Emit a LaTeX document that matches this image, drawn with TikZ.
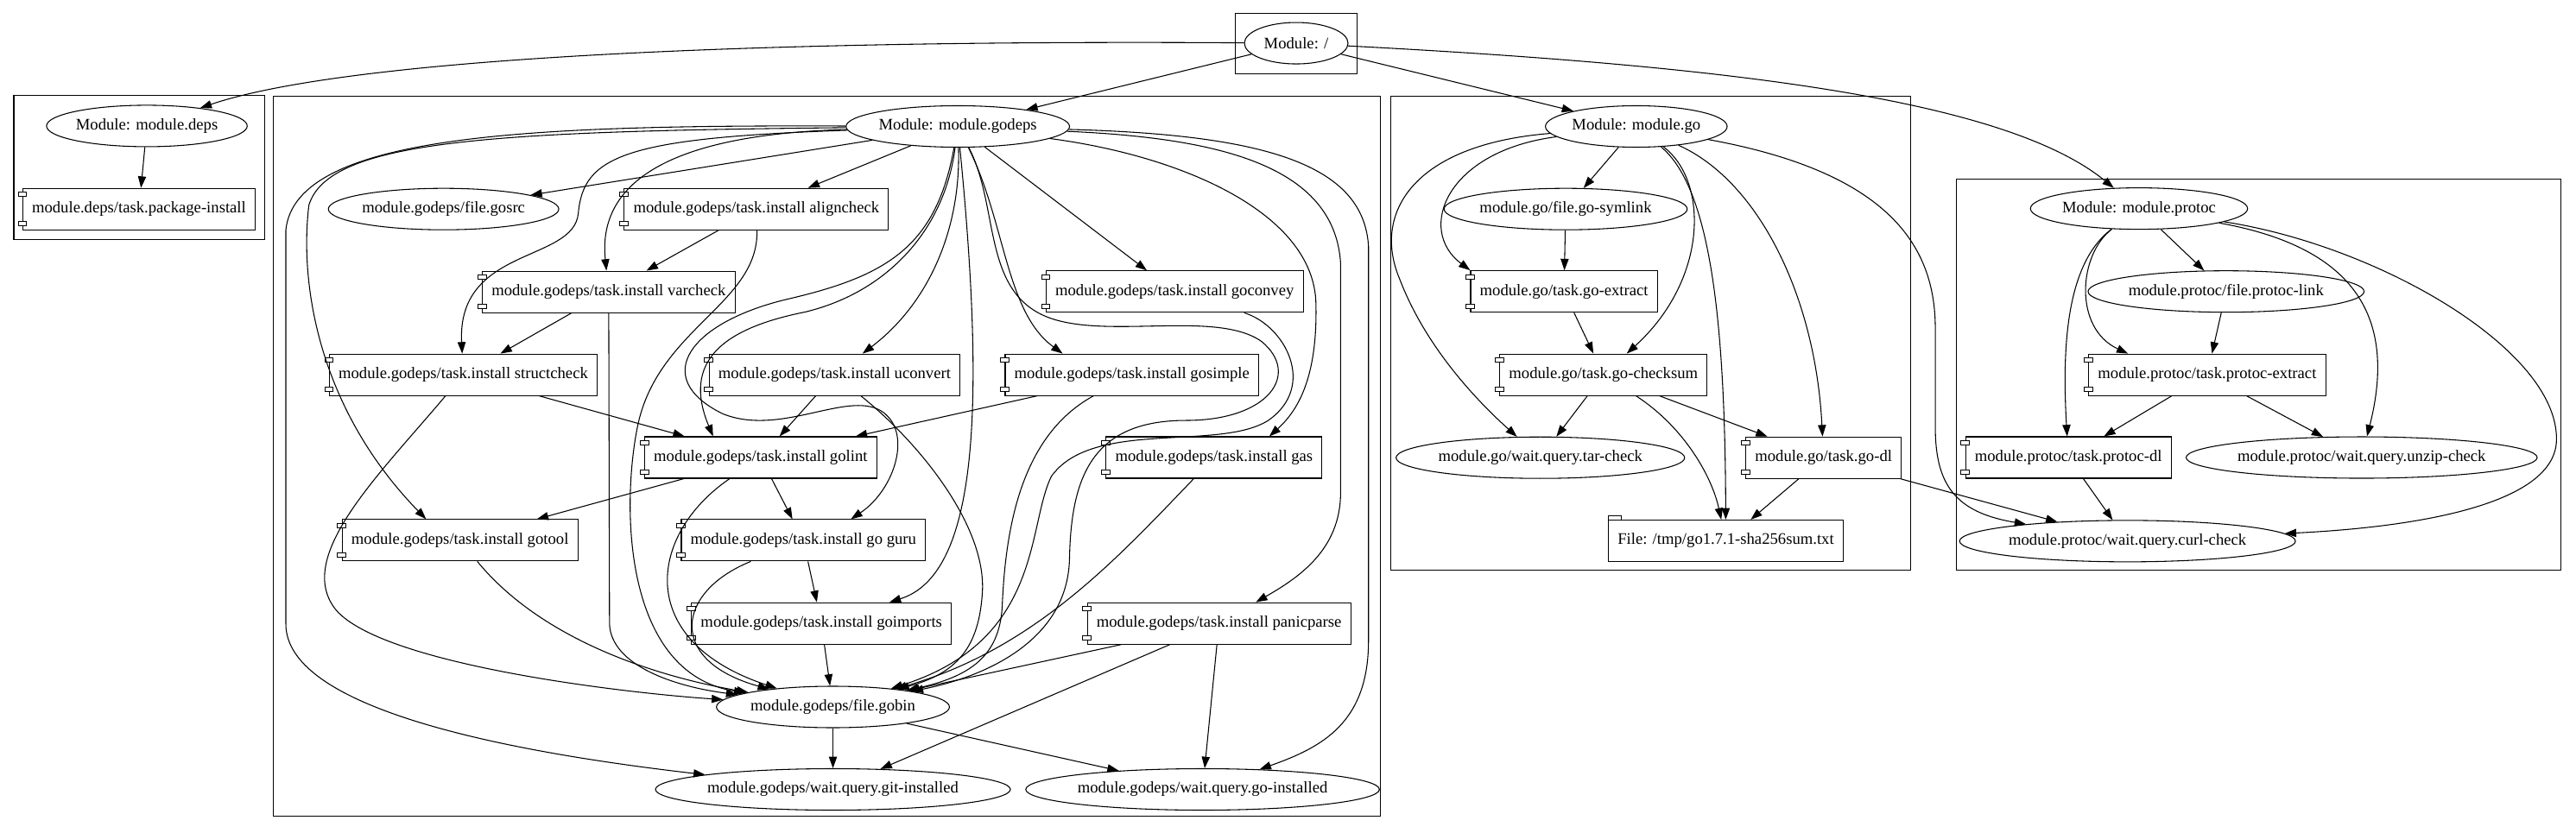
\documentclass[tikz,border=0pt]{standalone}
\usepackage{fontspec}
\setmainfont{Liberation Serif}
\usetikzlibrary{arrows.meta,shapes.geometric}
\tikzset{
  res/.style={draw, line width=0.8pt, font=\fontsize{14}{16}\selectfont},
  mod/.style={res, ellipse, inner xsep=0pt, minimum width=90pt, minimum height=36pt},
  comp/.style={res, rectangle, inner xsep=8pt, minimum height=36pt},
  filebox/.style={comp},
  tabbox/.style={draw, fill=white, line width=0.6pt},
  dep/.style={line width=0.8pt, -{Triangle[length=10pt,width=7pt]}},
  cluster/.style={draw, line width=0.8pt}
}
\begin{document}
\begin{tikzpicture}[x=1.4268pt, y=-1.4268pt]
\useasboundingbox (0,0) rectangle (1568,507);
\draw[cluster] (752,8) rectangle (826,45);
\draw[cluster] (8.4,58.3) rectangle (161,146);
\draw[cluster] (166.6,58.5) rectangle (840,497);
\draw[cluster] (846.5,58.5) rectangle (1163,347);
\draw[cluster] (1191,109) rectangle (1559,347);

\node[mod] (root) at (789,26.3) {Module: /};

\node[mod] (deps) at (89.4,76.7) {Module: module.deps};
\node[comp] (pkginst) at (84.6,127.3) {module.deps/task.package-install};

\node[mod] (godeps) at (583,77) {Module: module.godeps};
\node[mod] (gosrc) at (270,127.3) {module.godeps/file.gosrc};
\node[comp] (aligncheck) at (460.4,127.3) {module.godeps/task.install aligncheck};
\node[comp] (varcheck) at (370.5,177.7) {module.godeps/task.install varcheck};
\node[comp] (goconvey) at (715,177.6) {module.godeps/task.install goconvey};
\node[comp] (structcheck) at (282,228.2) {module.godeps/task.install structcheck};
\node[comp] (uconvert) at (508,228.2) {module.godeps/task.install uconvert};
\node[comp] (gosimple) at (689,228.2) {module.godeps/task.install gosimple};
\node[comp] (golint) at (463,278.6) {module.godeps/task.install golint};
\node[comp] (gas) at (739,278.6) {module.godeps/task.install gas};
\node[comp] (gotool) at (280,329) {module.godeps/task.install gotool};
\node[comp] (goguru) at (489,329) {module.godeps/task.install go guru};
\node[comp] (goimports) at (500,379.6) {module.godeps/task.install goimports};
\node[comp] (panicparse) at (742,379.6) {module.godeps/task.install panicparse};
\node[mod] (gobin) at (507,430.5) {module.godeps/file.gobin};
\node[mod] (gitinst) at (507,480.7) {module.godeps/wait.query.git-installed};
\node[mod] (goinst) at (732,480.7) {module.godeps/wait.query.go-installed};

\node[mod] (modgo) at (996,77) {Module: module.go};
\node[mod] (symlink) at (953,127.3) {module.go/file.go-symlink};
\node[comp] (extract) at (952,177.5) {module.go/task.go-extract};
\node[comp] (checksum) at (976,228.2) {module.go/task.go-checksum};
\node[mod] (tarcheck) at (937.6,278.7) {module.go/wait.query.tar-check};
\node[comp] (godl) at (1110,278.7) {module.go/task.go-dl};
\node[filebox] (sumtxt) at (1050.5,329.3) {File: /tmp/go1.7.1-sha256sum.txt};

\node[mod] (modprotoc) at (1302,127) {Module: module.protoc};
\node[mod] (protoclink) at (1355,177.5) {module.protoc/file.protoc-link};
\node[comp] (protocextract) at (1343.5,228.2) {module.protoc/task.protoc-extract};
\node[comp] (protocdl) at (1259,278.6) {module.protoc/task.protoc-dl};
\node[mod] (unzip) at (1437.5,278.6) {module.protoc/wait.query.unzip-check};
\node[mod] (curl) at (1295,329.5) {module.protoc/wait.query.curl-check};

\foreach \n in {pkginst,aligncheck,varcheck,goconvey,structcheck,uconvert,gosimple,golint,gas,gotool,goguru,goimports,panicparse,extract,checksum,godl,protocextract,protocdl}{
  \draw[tabbox] ([xshift=-3.7pt,yshift=-3.75pt]\n.north west) rectangle ++(7.4pt,-3.75pt);
  \draw[tabbox] ([xshift=-3.7pt,yshift=3.75pt]\n.south west) rectangle ++(7.4pt,3.75pt);
}
\draw[tabbox] (sumtxt.north west) rectangle ++(11.7pt,3.6pt);

\draw[dep] (root) .. controls (450,24) and (210,36) .. (deps);
\draw[dep] (root) -- (godeps);
\draw[dep] (root) -- (modgo);
\draw[dep] (root) .. controls (1050,40) and (1220,60) .. (modprotoc);

\draw[dep] (deps) -- (pkginst);

\draw[dep] (godeps) -- (gosrc);
\draw[dep] (godeps) -- (aligncheck);
\draw[dep] (godeps) .. controls (400,82) and (364,115) .. (varcheck);
\draw[dep] (godeps) .. controls (380,84) and (355,95) .. (352,130) .. controls (349,160) and (278,150) .. (structcheck);
\draw[dep] (godeps) .. controls (300,80) and (200,85) .. (188,125) .. controls (182,175) and (195,250) .. (gotool.148);
\draw[dep] (godeps) .. controls (320,76) and (180,82) .. (174,140) -- (174,380) .. controls (174,432) and (310,458) .. (gitinst);
\draw[dep] (godeps) .. controls (575,140) and (540,178) .. (490,190) .. controls (440,200) and (415,220) .. (golint.156);
\draw[dep] (godeps) .. controls (570,150) and (540,168) .. (480,182) .. controls (420,196) and (395,230) .. (440,252) .. controls (475,266) and (515,238) .. (536,250) .. controls (556,262) and (545,298) .. (goguru.24);
\draw[dep] (godeps) .. controls (585,140) and (565,185) .. (uconvert);
\draw[dep] (godeps) .. controls (600,250) and (595,350) .. (goimports);
\draw[dep] (godeps) .. controls (608,125) and (598,175) .. (635,192) .. controls (670,208) and (740,188) .. (768,208) .. controls (792,228) and (772,256) .. (722,256) .. controls (665,256) and (652,290) .. (651,340) .. controls (650,390) and (600,412) .. (gobin);
\draw[dep] (godeps) .. controls (612,135) and (612,190) .. (gosimple.163);
\draw[dep] (godeps) -- (goconvey);
\draw[dep] (godeps) .. controls (720,95) and (800,130) .. (801,185) .. controls (802,230) and (790,250) .. (gas.21);
\draw[dep] (godeps) .. controls (740,84) and (812,100) .. (816,160) -- (816,300) .. controls (816,335) and (790,352) .. (panicparse);
\draw[dep] (godeps) .. controls (770,82) and (830,100) .. (833,150) -- (833,390) .. controls (833,440) and (805,455) .. (goinst);

\draw[dep] (aligncheck) -- (varcheck);
\draw[dep] (aligncheck) .. controls (462,185) and (400,200) .. (388,260) .. controls (378,310) and (380,410) .. (gobin);
\draw[dep] (varcheck) -- (structcheck);
\draw[dep] (varcheck) -- (371,380) .. controls (372,405) and (410,418) .. (gobin);
\draw[dep] (structcheck) -- (golint);
\draw[dep] (structcheck) .. controls (230,290) and (178,340) .. (205,372) .. controls (235,405) and (380,422) .. (gobin);
\draw[dep] (uconvert) -- (golint);
\draw[dep] (uconvert) .. controls (560,270) and (600,320) .. (598,360) .. controls (596,395) and (582,410) .. (gobin);
\draw[dep] (gosimple) -- (golint);
\draw[dep] (gosimple) .. controls (622,265) and (612,320) .. (610,370) .. controls (608,400) and (590,412) .. (gobin);
\draw[dep] (goconvey) .. controls (782,198) and (802,235) .. (772,256) .. controls (742,275) and (665,255) .. (640,290) .. controls (625,320) and (635,390) .. (gobin);
\draw[dep] (golint) -- (gotool);
\draw[dep] (golint) -- (goguru);
\draw[dep] (golint) .. controls (395,325) and (385,390) .. (gobin);
\draw[dep] (gotool) .. controls (330,390) and (400,412) .. (gobin);
\draw[dep] (goguru) -- (goimports);
\draw[dep] (goguru) .. controls (412,360) and (405,402) .. (gobin);
\draw[dep] (goimports) -- (gobin);
\draw[dep] (gas) .. controls (680,340) and (630,395) .. (gobin);
\draw[dep] (panicparse) -- (gobin);
\draw[dep] (panicparse) -- (gitinst);
\draw[dep] (panicparse) -- (goinst);
\draw[dep] (gobin) -- (gitinst);
\draw[dep] (gobin) -- (goinst);

\draw[dep] (modgo) -- (symlink);
\draw[dep] (modgo) .. controls (880,92) and (862,140) .. (extract.north west);
\draw[dep] (modgo) .. controls (860,88) and (835,130) .. (852,170) .. controls (868,212) and (900,245) .. (tarcheck);
\draw[dep] (modgo) .. controls (1040,110) and (1040,170) .. (checksum);
\draw[dep] (modgo) .. controls (1042,115) and (1050,200) .. (sumtxt);
\draw[dep] (modgo) .. controls (1070,110) and (1105,180) .. (godl);
\draw[dep] (modgo) .. controls (1150,105) and (1178,150) .. (1178,200) -- (1178,260) .. controls (1178,295) and (1190,312) .. (curl);
\draw[dep] (symlink) -- (extract);
\draw[dep] (extract) -- (checksum);
\draw[dep] (checksum) -- (tarcheck);
\draw[dep] (checksum) .. controls (1025,260) and (1042,290) .. (sumtxt);
\draw[dep] (checksum) -- (godl);
\draw[dep] (godl) -- (sumtxt);
\draw[dep] (godl) -- (curl);

\draw[dep] (modprotoc) -- (protoclink);
\draw[dep] (modprotoc) .. controls (1265,155) and (1262,200) .. (protocextract.165);
\draw[dep] (modprotoc) .. controls (1258,160) and (1255,210) .. (protocdl);
\draw[dep] (modprotoc) .. controls (1430,150) and (1460,190) .. (unzip);
\draw[dep] (modprotoc) .. controls (1450,150) and (1560,215) .. (1556,270) .. controls (1552,312) and (1450,322) .. (curl);
\draw[dep] (protoclink) -- (protocextract);
\draw[dep] (protocextract) -- (protocdl);
\draw[dep] (protocextract) -- (unzip);
\draw[dep] (protocdl) -- (curl);
\end{tikzpicture}
\end{document}
